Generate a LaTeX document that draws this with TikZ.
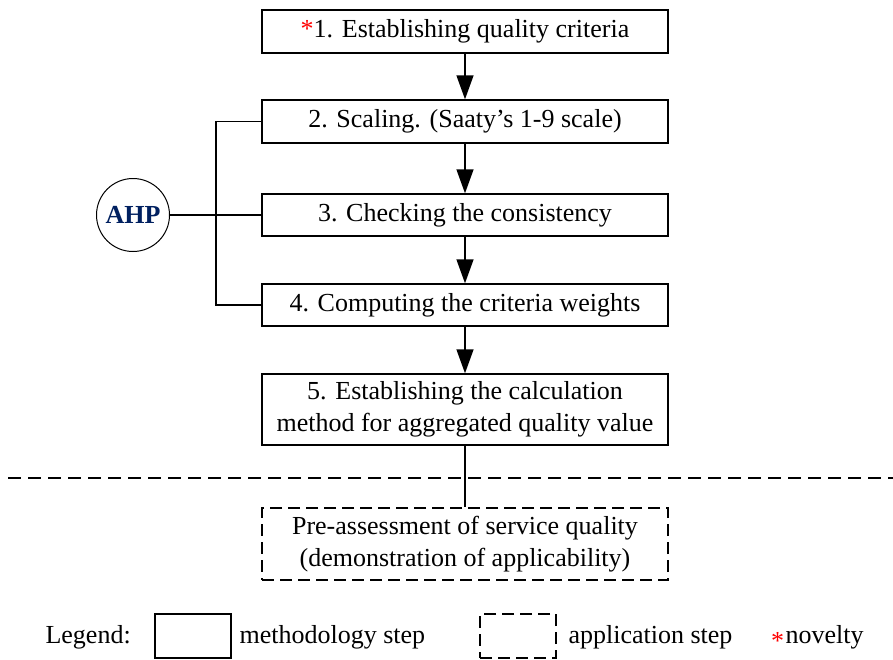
\documentclass[tikz,border=0pt]{standalone}
\usepackage{fontspec}
\setmainfont{Liberation Serif}
\usetikzlibrary{arrows.meta}
\definecolor{ahpblue}{RGB}{0,32,96}
\begin{document}
\begin{tikzpicture}[x=1pt,y=-1pt,
  font=\fontsize{26}{32}\selectfont,
  stepbox/.style={draw, line width=1.4pt, minimum width=406pt, align=center, inner sep=0pt},
  appbox/.style={draw, line width=1.4pt, dash pattern=on 12pt off 6pt, minimum width=406pt, align=center, inner sep=0pt},
  flow/.style={line width=1.4pt, -{Triangle[length=24pt,width=17pt]}},
  link/.style={line width=1.2pt}
]
\useasboundingbox (0,0) rectangle (893,659);
\node[stepbox, minimum height=43pt] (s1) at (465,31.5) {{\color{red}*}1. Establishing quality criteria};
\node[stepbox, minimum height=43pt] (s2) at (465,121.5) {2. Scaling. (Saaty's 1-9 scale)};
\node[stepbox, minimum height=42pt] (s3) at (465,215) {3. Checking the consistency};
\node[stepbox, minimum height=42pt] (s4) at (465,305) {4. Computing the criteria weights};
\node[stepbox, minimum height=71pt] (s5) at (465,409.5) {5. Establishing the calculation\\method for aggregated quality value};
\node[appbox, minimum height=72pt] (a1) at (465,544) {Pre-assessment of service quality\\(demonstration of applicability)};
\node[draw, circle, line width=1pt, minimum size=73pt, inner sep=0pt, text=ahpblue, font=\fontsize{26}{30}\selectfont\bfseries] (ahp) at (133,215) {AHP};
\draw[flow] (s1) -- (s2);
\draw[flow] (s2) -- (s3);
\draw[flow] (s3) -- (s4);
\draw[flow] (s4) -- (s5);
\draw[link] (ahp) -- (s3.west);
\draw[link] (s2.west) -| (216,215) |- (s4.west);
\draw[link] (s5) -- (a1);
\coordinate (dl) at (8,478);
\coordinate (dr) at (893,478);
\draw[line width=1.4pt, dash pattern=on 13pt off 7pt] (dl) -- (dr);
% legend
\node[anchor=west] (lg) at (42,637) {Legend:};
\node[draw, line width=1.4pt, minimum width=76pt, minimum height=44pt] (lb1) at (193,636) {};
\node[anchor=west] (lt1) at (236,637) {methodology step};
\node[draw, line width=1.4pt, dash pattern=on 12pt off 6pt, minimum width=76pt, minimum height=44pt] (lb2) at (518,636) {};
\node[anchor=west] (lt2) at (565,637) {application step};
\node[anchor=west, text=red, inner sep=0pt] (star) at (771,641) {*};
\node[anchor=west] (lt3) at (782,637) {novelty};
\end{tikzpicture}
\end{document}
